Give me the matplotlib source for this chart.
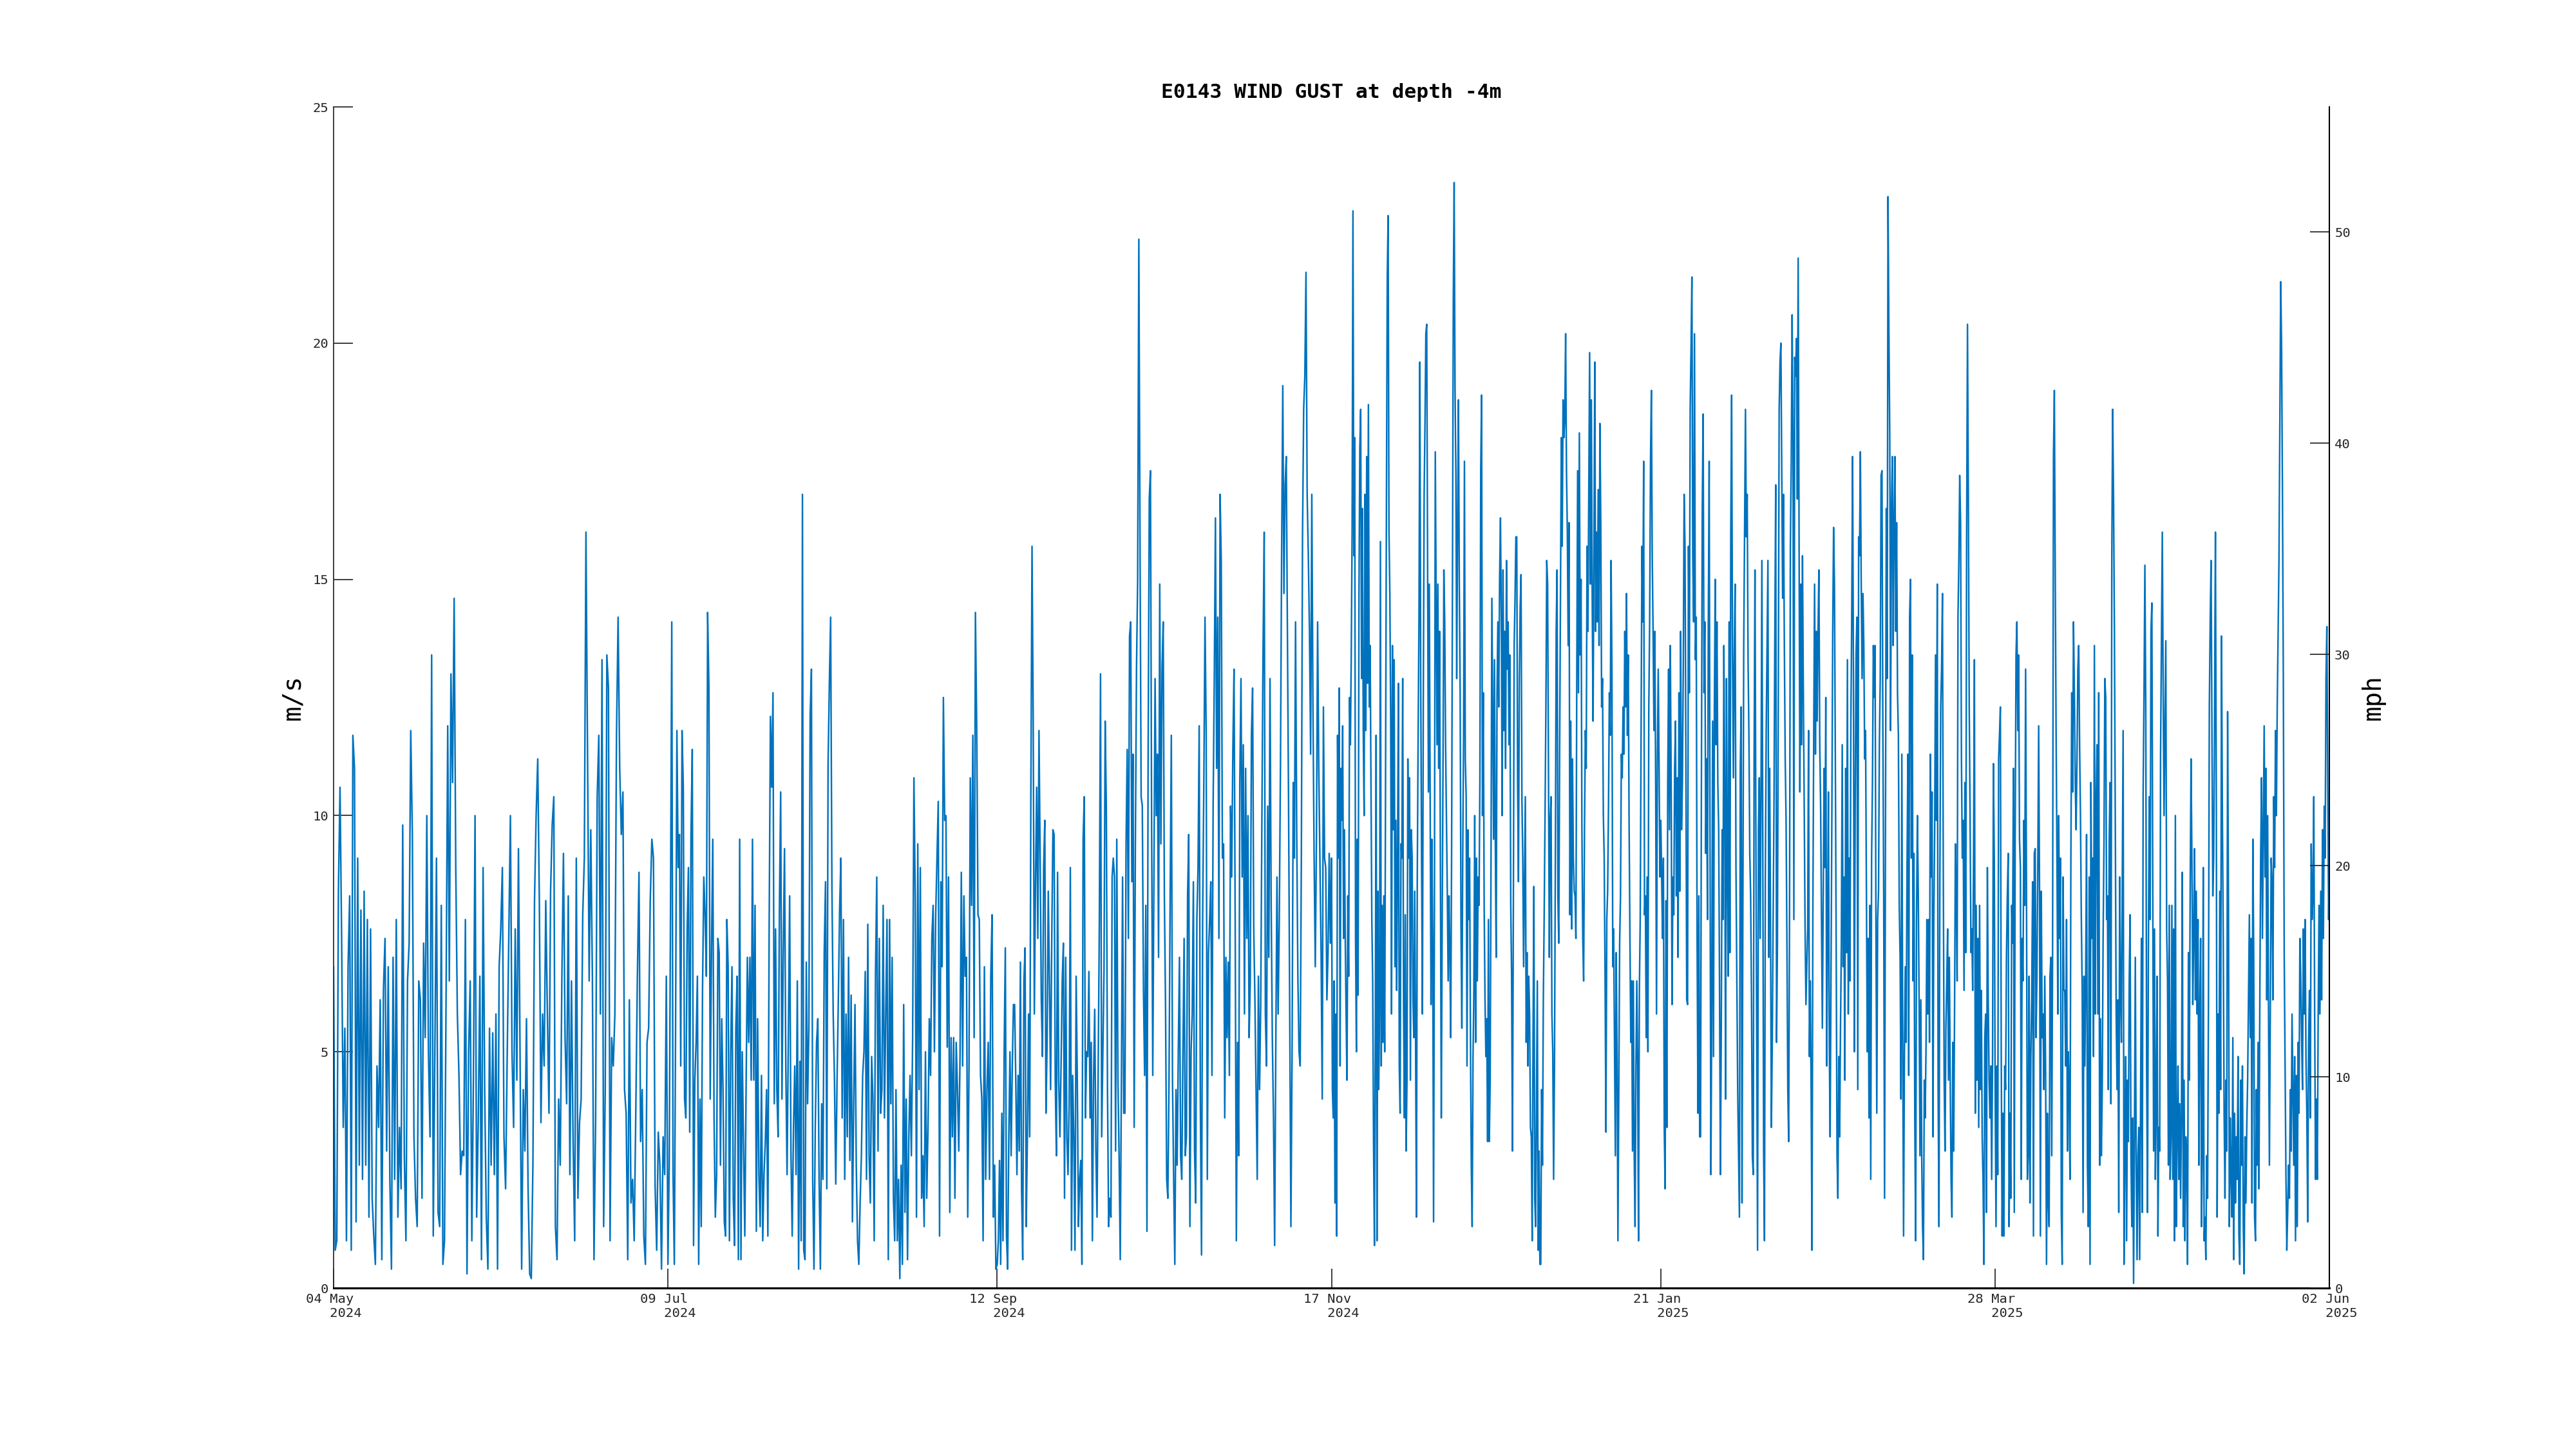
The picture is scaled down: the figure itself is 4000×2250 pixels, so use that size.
import numpy as np
import matplotlib
matplotlib.use("Agg")
import matplotlib.pyplot as plt

plt.rcParams['font.family'] = ['DejaVu Sans Mono']

title = "E0143 WIND GUST at depth -4m"
tick_dates = np.array(['2024-05-04', '2024-07-09', '2024-09-12', '2024-11-17',
                       '2025-01-21', '2025-03-28', '2025-06-02'], dtype='datetime64[s]')
ms_to_mph = 2.23694

# gust readings (m/s), one list per interval between the date ticks
seg1 = [6.8,0.8,1.0,8.4,10.6,7.4,3.4,5.5,1.0,6.8,8.3,0.8,11.7,11.0,1.4,9.1,2.6,8.0,2.3,8.4,2.6,7.8,1.5,7.6,1.9,1.1,0.5,4.7,3.4,6.1,
        0.6,6.3,7.4,2.9,6.8,2.3,0.4,7.0,2.3,7.8,1.5,3.4,2.1,9.8,2.8,1.0,6.5,7.3,11.8,9.6,3.2,1.9,1.3,6.5,6.1,1.9,7.3,5.3,10.0,5.0,
        3.2,13.4,1.1,5.0,9.1,1.6,1.3,8.1,0.5,1.0,6.3,11.9,6.5,13.0,10.7,14.6,8.9,5.8,4.5,2.4,2.9,2.8,7.8,0.3,5.0,6.5,1.0,4.4,10.0,1.5,
        3.5,6.6,0.6,8.9,4.2,1.5,0.4,5.5,2.6,5.4,2.4,5.8,0.4,6.8,7.6,8.9,3.2,2.1,4.9,7.5,10.0,5.0,3.4,7.6,4.4,9.3,5.0,0.4,4.2,2.9,
        5.7,2.1,0.3,0.2,2.6,8.2,10.0,11.2,8.2,3.5,5.8,4.7,8.2,5.8,3.7,8.4,9.8,10.4,1.3,0.6,4.0,2.6,6.5,9.2,5.3,3.9,8.3,2.4,6.5,3.1,
        1.0,9.1,1.9,3.5,4.0,7.9,9.1,16.0,11.2,6.5,9.7,6.6,0.6,3.5,10.4,11.7,5.8,13.3,1.3,4.2,13.4,12.7,1.0,5.3,4.7,5.8,11.7,14.2,11.0,9.6,
        10.5,4.2,3.7,0.6,6.1,1.8,2.3,1.0,3.7,6.6,8.8,3.1,4.2,1.1,0.5,5.2,5.5,8.2,9.5,9.1,2.2,0.8,3.3,2.6,0.4,3.2,2.4,6.6]
seg2 = [0.5,2.6,7.9,14.1,2.4,0.5,5.7,11.8,8.9,9.6,4.7,11.8,10.6,4.0,3.6,7.6,8.9,3.3,9.6,11.4,0.9,4.4,5.2,6.6,0.5,4.0,1.3,6.3,8.7,7.9,
        6.6,14.3,12.7,4.0,7.1,9.5,3.6,1.5,2.4,7.4,7.1,2.6,5.7,4.2,1.4,1.1,7.8,6.8,1.0,5.0,6.8,1.9,0.9,5.5,6.6,0.6,9.5,0.6,5.0,3.1,
        1.1,4.2,7.0,5.2,7.0,4.4,9.5,4.4,8.1,1.2,5.7,2.4,1.3,4.5,1.0,2.4,3.1,4.2,1.1,7.6,12.1,10.6,12.6,3.9,7.6,4.2,3.2,8.0,10.5,4.0,
        7.1,9.3,4.7,2.4,5.3,8.3,2.9,1.1,3.4,4.7,2.4,6.5,0.4,4.8,1.0,16.8,0.8,0.6,6.9,3.9,5.5,12.1,13.1,2.3,0.4,3.4,5.2,5.7,2.3,0.4,
        3.9,2.3,7.1,8.6,2.1,11.1,12.8,14.2,8.5,5.8,4.4,2.2,4.4,6.1,8.0,9.1,3.6,7.8,2.3,5.8,3.2,7.0,2.7,6.2,1.4,3.9,6.0,2.6,1.0,0.5,
        1.8,2.8,4.5,5.0,6.7,2.3,7.7,2.8,1.8,4.9,4.0,1.0,6.6,8.7,2.9,7.4,3.7,4.2,8.1,3.6,5.8,7.8,0.6,7.8,3.9,7.0,1.9,1.0,4.2,1.0,
        2.3,0.2,2.6,0.5,6.0,1.6,4.0,0.6,3.2,4.5,2.8,5.3,10.8,8.3,1.5,9.4,4.2,8.9,1.9,2.8,1.3,5.0,1.9,3.4,5.7,4.5,7.4,8.1,5.0,7.9,
        9.1,10.3,1.1,8.6,6.8,12.5,9.9,10.0,5.1,8.7,1.6,5.3,3.2,5.3,1.9,5.2,4.2,2.9,4.9,8.8,4.7,8.3,6.6,7.0,1.5,4.7,10.8,8.1,11.7,5.3,
        14.3,11.9,7.9,7.8,4.5,4.0,1.0,6.8,2.3,4.2,5.2,2.3,6.6,7.9,1.5,2.6,0.4]
seg3 = [0.5,1.0,2.7,0.5,3.7,1.0,5.0,7.2,1.1,0.4,3.2,5.0,2.8,4.7,6.0,6.0,4.4,2.4,4.5,2.9,6.9,2.1,0.6,6.5,7.2,1.3,3.2,5.8,3.2,10.4,
        15.7,12.1,5.8,8.6,10.6,7.4,11.8,9.1,6.1,4.9,8.9,9.9,3.7,5.2,8.4,6.5,4.2,7.4,9.7,9.6,4.4,2.8,8.8,4.4,3.2,4.7,6.5,7.3,1.9,7.0,
        3.2,2.4,3.9,8.9,0.8,4.5,3.2,0.8,6.6,4.4,1.3,2.3,2.7,0.5,9.5,10.4,3.6,5.0,4.9,6.7,3.6,5.2,1.0,4.4,5.9,2.9,1.5,4.7,7.8,13.0,
        3.2,4.9,6.7,12.0,10.2,4.2,1.3,1.9,1.5,8.7,9.1,8.7,2.9,9.5,4.4,2.8,0.6,4.4,8.7,3.7,3.7,9.4,11.4,7.4,13.8,14.1,8.6,11.3,3.4,9.3,
        13.1,15.0,22.2,15.9,10.4,10.2,6.3,4.5,8.1,1.2,11.2,16.7,17.3,10.0,4.5,8.6,12.9,10.0,11.3,7.0,14.9,9.4,13.1,14.1,8.3,6.0,2.3,1.9,4.4,8.3,
        11.7,4.4,2.3,0.5,4.2,2.6,5.0,7.0,2.8,2.3,5.0,7.4,2.8,3.2,8.3,9.6,1.3,5.0,5.8,8.6,2.9,1.8,7.8,8.9,11.9,3.9,0.7,7.9,10.7,14.2,
        11.8,2.3,7.1,7.8,8.6,4.5,10.2,12.9,16.3,11.0,14.2,7.4,16.8,15.4,9.1,9.4,3.6,7.0,5.3,6.9,4.5,10.2,8.7,11.4,13.1,7.8,1.0,5.2,2.8,10.7,
        12.9,8.7,11.5,5.8,11.0,7.4,10.0,5.3,6.5,11.7,12.7,7.6,6.1,4.2,2.3,6.6,4.2,6.0,9.9,13.5,16.0,5.8,4.7,10.2,7.0,12.9,8.1,5.3,3.6,0.9,
        5.2,8.7,5.8,7.8,11.0,15.5,19.1,14.7,17.0,17.6,13.9,10.2,5.8,1.3,4.9,10.7,9.1,14.1,9.7,6.6,5.0,4.7,9.1,15.9,18.6,19.3,21.5,16.8,15.5,13.9,
        11.3,16.8,12.3,9.1,6.8,9.5,14.1,11.0,9.1,7.1,4.0,12.3,9.1,8.9,6.1,7.1,9.2,7.3]
seg4 = [9.1,4.2,3.6,6.5,1.8,5.8,1.1,11.7,9.1,12.7,4.7,11.0,9.9,11.9,7.4,9.7,7.4,5.8,4.4,8.3,6.6,12.5,11.5,13.4,16.0,22.8,15.5,18.0,7.4,5.0,
        9.5,6.2,14.7,17.8,18.6,12.9,16.5,11.8,10.0,16.8,11.8,17.6,12.8,18.7,12.3,13.6,10.7,7.8,6.5,3.1,0.9,5.2,11.7,1.0,8.4,4.2,5.8,15.8,4.7,8.1,
        5.2,8.3,5.0,11.0,16.5,21.4,22.7,16.0,14.7,12.0,5.8,13.6,9.7,13.3,6.8,9.9,6.3,9.1,12.8,4.7,3.7,9.4,9.1,12.9,6.0,3.6,7.9,2.9,4.4,11.2,
        9.1,10.8,4.4,9.7,9.1,6.1,5.3,8.4,5.3,1.5,8.7,11.7,14.2,19.6,12.9,9.1,5.8,12.3,16.8,18.3,20.2,20.4,15.5,10.5,14.9,10.4,6.0,9.5,7.4,1.4,
        8.1,17.7,14.6,11.5,14.9,11.0,13.9,8.6,3.6,7.6,11.0,15.2,14.1,11.5,9.9,8.4,6.5,8.3,7.1,5.3,9.1,14.7,20.9,23.4,19.1,17.3,12.9,16.2,18.8,14.9,
        12.6,7.6,5.5,9.1,11.7,17.5,11.2,10.4,4.7,9.7,7.8,9.1,5.3,2.6,1.3,4.9,6.3,10.0,5.2,9.1,6.5,8.7,8.1,10.7,17.3,18.9,10.0,12.6,8.1,6.1,
        4.9,5.7,3.1,7.8,3.1,4.4,9.1,14.6,12.0,9.5,13.3,9.4,7.0,12.6,14.1,12.3,15.0,16.3,14.2,10.0,15.2,11.8,13.9,11.0,15.4,13.1,14.1,11.5,13.4,8.1,
        6.6,2.9,7.8,13.6,14.6,15.9,15.9,10.7,8.6,12.9,14.4,15.1,10.4,9.1,6.8,8.6,10.4,5.2,7.1,4.7,6.6,5.8,3.4,3.2,1.0,5.3,8.5,1.9,1.3,3.9,
        6.5,0.8,2.9,0.5,0.5,4.2,2.6,6.1,7.9,10.0,12.3,15.4,14.9,10.8,7.0,9.9,10.4,5.8,5.0,2.3,4.7,8.9,13.9,15.2,8.3,7.3,11.3,14.7,18.0,15.7,
        18.8,18.0,18.4,20.2,17.3,16.0,13.6,16.2,7.9,12.0,7.6,11.2,9.1,8.4,8.3,7.4,12.9,17.3,12.6,18.1,13.4,15.0,9.7,7.4,6.5,9.7,11.8,11.0,15.7,13.9,
        16.8,19.8,14.9,18.8,14.6,12.0,15.5,19.6,13.9,16.0,14.1,16.9,13.6,18.3,16.2,12.3,12.9,10.0,9.1,6.6,3.3,7.8,8.4,10.2,12.6,11.7,15.4,13.1,6.8,7.6,
        5.2,2.8,7.1,4.9,1.0,4.2,7.3,8.3,11.3,10.8,12.3,11.3,13.9,12.3,14.7,11.7,13.4,9.9,7.4,5.2,6.5,2.9,6.5,2.8,1.3,4.7,6.5,4.7,1.0,6.3,
        7.8,11.8,15.7,14.1,17.5,7.9,8.3,5.3,8.7,5.0,12.3,14.1,17.5,19.0,15.5,13.9,11.8,13.9,10.8,5.8,11.2,13.1,11.0,8.7]
seg5 = [9.9,8.7,7.4,9.1,3.4,2.1,8.2,3.4,10.7,13.1,9.7,13.6,10.7,6.0,8.7,7.9,11.0,12.0,8.3,10.8,7.0,12.6,8.4,13.9,9.7,10.7,13.1,16.8,15.7,11.5,
        6.1,6.0,15.7,12.6,18.6,19.9,21.4,15.5,14.1,20.2,13.3,14.2,7.4,3.7,8.3,3.2,3.2,10.7,16.5,18.5,12.6,14.1,9.2,11.2,7.8,14.1,17.5,9.1,2.4,6.1,
        12.0,4.9,12.3,15.0,11.5,14.1,10.7,9.7,6.3,2.4,5.5,9.7,7.8,13.6,10.5,4.0,12.9,9.1,6.6,14.1,7.1,16.0,18.9,13.4,10.8,13.3,14.9,8.9,6.5,4.2,
        2.9,1.5,11.0,12.3,1.8,8.1,13.6,16.2,18.6,15.9,16.8,13.3,11.7,9.2,8.3,6.1,2.8,2.4,11.2,15.2,9.9,5.5,0.8,9.7,10.8,7.4,10.4,15.4,9.7,2.9,
        1.0,8.7,11.8,13.6,15.4,7.0,11.0,7.8,3.4,5.2,7.8,10.2,13.9,17.0,5.2,7.3,12.6,18.6,19.6,20.0,17.3,14.6,16.8,13.6,11.2,9.9,7.3,4.2,3.1,7.9,
        15.7,17.5,20.6,18.1,7.8,19.7,19.3,20.1,16.7,21.8,16.3,10.5,14.9,11.5,15.5,12.6,10.2,7.6,6.0,6.8,7.6,11.8,4.9,6.5,4.2,0.8,7.9,11.7,14.9,11.3,
        13.9,12.0,13.9,15.2,11.5,10.2,7.8,5.5,8.3,11.0,8.9,12.5,4.7,7.4,10.5,5.2,3.2,6.5,10.0,13.9,16.1,14.9,11.3,7.3,2.8,1.9,4.9,3.2,5.5,7.3,
        11.5,6.8,8.7,4.4,11.0,7.1,13.3,5.8,9.1,6.5,12.0,14.2,17.6,12.9,5.0,10.2,13.4,14.2,4.2,15.9,15.5,17.7,14.9,12.9,14.7,13.6,11.2,11.8,8.3,5.0,
        7.4,3.6,8.1,2.3,9.1,10.7,13.6,12.5,13.6,7.8,3.7,7.8,8.4,11.5,12.9,17.2,17.3,12.0,8.3,1.9,9.4,16.5,12.9,23.1,20.3,18.1,11.8,16.5,17.6,13.6,
        16.2,17.6,13.9,16.2,12.6,11.7,8.1,7.0,4.0,11.3,5.3,1.1,5.0,6.8,5.2,8.9,11.3,4.5,14.2,15.0,9.1,13.4,6.5,9.2,3.6,1.0,7.8,10.0,8.4,6.1,
        2.8,6.1,2.8,1.3,0.6,4.4,3.6,5.1,7.8,5.8,7.8,5.2,11.3,8.7,10.5,3.2,7.8,9.7,13.4,9.9,14.9,4.2,1.3,8.6,12.3,13.1,14.7,8.7,4.4,2.9,
        5.5,6.5,7.6,4.4,7.0,4.4,2.3,1.5,5.2,2.9,5.8,9.4,8.3,6.5,14.2,15.4,17.2,16.2,11.2,9.1,9.9,6.3,10.7,7.1,15.9,20.4,16.7,12.3,10.0,7.1,
        7.6,6.3,9.1,13.3,3.7,8.1,4.4,7.4,3.4,8.1,4.2,6.3,3.2,2.3,0.5,5.3,5.8,1.6,8.9,6.1,4.4,3.6,4.7,2.3,4.9,11.1,9.1]
seg6 = [4.2,1.3,4.7,2.4,11.2,11.7,12.3,5.0,1.1,3.7,1.1,4.7,4.2,7.0,8.3,9.2,1.3,3.7,1.9,8.1,7.3,11.0,1.6,9.5,13.4,14.1,11.8,13.4,9.5,8.9,
        2.3,7.4,6.5,9.9,8.1,13.1,8.4,2.3,2.8,6.6,1.8,4.9,6.1,8.6,1.1,9.2,9.3,5.3,6.6,8.9,11.9,8.3,1.1,8.4,5.3,5.8,4.2,6.6,4.5,0.5,
        3.7,1.8,1.3,6.6,7.0,2.8,7.3,17.6,19.0,15.2,11.8,9.1,5.8,10.0,7.4,9.1,1.6,0.5,8.7,6.3,6.3,4.7,7.8,2.9,5.0,4.2,2.3,9.1,12.6,10.5,
        14.1,12.6,10.7,9.7,11.2,13.1,13.6,11.5,10.0,7.8,6.3,1.6,6.6,4.7,6.6,9.6,2.6,1.3,8.7,0.5,10.7,7.4,9.1,4.9,13.6,5.8,10.2,11.5,5.8,12.6,
        2.6,5.7,2.8,4.2,7.4,9.4,12.9,12.5,7.8,8.3,4.2,9.5,10.7,3.9,15.5,18.6,16.7,13.9,9.9,5.8,4.2,6.1,1.6,8.7,6.3,5.2,8.4,11.8,0.5,2.9,
        4.9,1.0,4.4,3.1,6.5,7.9,2.8,1.3,3.6,0.1,3.2,7.0,2.6,0.6,2.8,3.4,0.6,3.7,7.4,1.6,10.5,12.6,15.3,12.3,4.7,1.6,7.1,10.4,7.8,13.9,
        14.5,8.6,2.9,7.6,2.3,3.9,6.6,1.1,3.4,2.9,11.3,13.6,16.0,12.6,10.0,11.8,13.7,7.6,6.5,2.6,8.1,2.3,3.2,8.1,2.3,7.6,1.0,10.0,1.3,3.2,
        4.7,2.3,3.9,1.9,3.7,8.8,1.3,4.4,1.0,3.2,2.9,0.5,7.1,4.4,8.4,11.2,9.1,6.0,7.4,9.3,6.1,8.4,5.8,7.8,2.6,5.8,7.4,1.3,2.8,8.9,
        1.0,1.5,0.6,2.8,1.9,6.0,12.3,14.1,15.4,11.8,8.3,9.1,12.1,16.0,10.4,1.5,5.8,3.7,8.4,4.2,13.8,10.0,7.4,3.7,1.9,4.4,2.9,12.2,8.1,1.3,
        3.6,2.4,1.5,5.3,0.6,3.7,1.8,3.2,2.3,4.9,1.1,0.5,4.4,2.6,4.7,1.3,0.3,3.2,1.8,3.4,4.4,6.1,7.9,5.3,7.4,1.8,9.5,7.0,1.5,1.0,
        4.2,2.6,5.2,2.1,6.1,9.2,10.8,7.4,9.7,11.9,8.7,11.0,6.1,10.0,5.8,2.6,5.7,9.1,8.6,6.1,10.4,8.9,11.8,10.0,12.3,13.9,15.4,18.4,21.3,19.9,
        16.8,12.9,7.1,4.7,2.4,0.8,1.6,2.6,1.9,4.2,2.9,5.8,4.2,2.6,4.9,1.0,4.5,1.3,5.2,3.7,7.4,6.6,5.3,4.2,7.6,5.8,7.8,4.9,3.7,1.4,
        5.2,6.3,3.6,9.4,7.8,8.3,10.4,5.7,2.3,4.0,2.3,5.7,8.1,5.8,8.4,6.1,9.7,7.4,10.2,9.1,12.9,14.0,10.7,7.8,9.1]

segments = [seg1, seg2, seg3, seg4, seg5, seg6]

# sample times: readings spread evenly over each tick interval
times = []
gust = []
for k, seg in enumerate(segments):
    start, end = tick_dates[k], tick_dates[k + 1]
    span = (end - start).astype(np.int64)
    n = len(seg)
    last = k == len(segments) - 1
    steps = np.arange(n) * span // (n - 1 if last else n)
    times.append(start + steps.astype('timedelta64[s]'))
    gust.extend(seg)
times = np.concatenate(times)
gust = np.array(gust)

fig = plt.figure(figsize=(16, 9), dpi=250)
ax = fig.add_axes([0.1295, 0.1111, 0.7748, 0.8151])
ax.plot(times, gust, color='#0072BD', lw=0.7)

ax.set_xlim(tick_dates[0], tick_dates[-1])
ax.set_ylim(0, 25)
ax.set_yticks([0, 5, 10, 15, 20, 25])
ax.set_xticks(tick_dates)
labels = [d.astype(object).strftime('%d %b') + '\n   ' + d.astype(object).strftime('%Y') for d in tick_dates]
ax.set_xticklabels(labels, multialignment='left')

ax.tick_params(direction='in', length=8.6, width=0.5, labelsize=5.9,
               colors='#262626', pad=2.2)
ax.spines['top'].set_visible(False)
ax.spines['right'].set_visible(False)
ax.spines['left'].set_linewidth(0.5)
ax.spines['left'].set_color('#262626')
ax.spines['bottom'].set_linewidth(0.9)
ax.spines['bottom'].set_color('black')
ax.set_ylabel('m/s', fontsize=11.3, labelpad=3.5)
ax.set_title(title, fontsize=9, fontweight='bold', pad=4)

ax2 = ax.twinx()
ax2.set_ylim(0, 25 * ms_to_mph)
ax2.set_yticks([0, 10, 20, 30, 40, 50])
ax2.tick_params(direction='in', length=8.6, width=0.5, labelsize=5.9,
                colors='#262626', pad=2.3)
for s in ['top', 'left', 'bottom']:
    ax2.spines[s].set_visible(False)
ax2.spines['right'].set_linewidth(0.6)
ax2.spines['right'].set_color('black')
ax2.set_ylabel('mph', fontsize=11.3, labelpad=4.5)

fig.savefig('out.png', dpi=250)
